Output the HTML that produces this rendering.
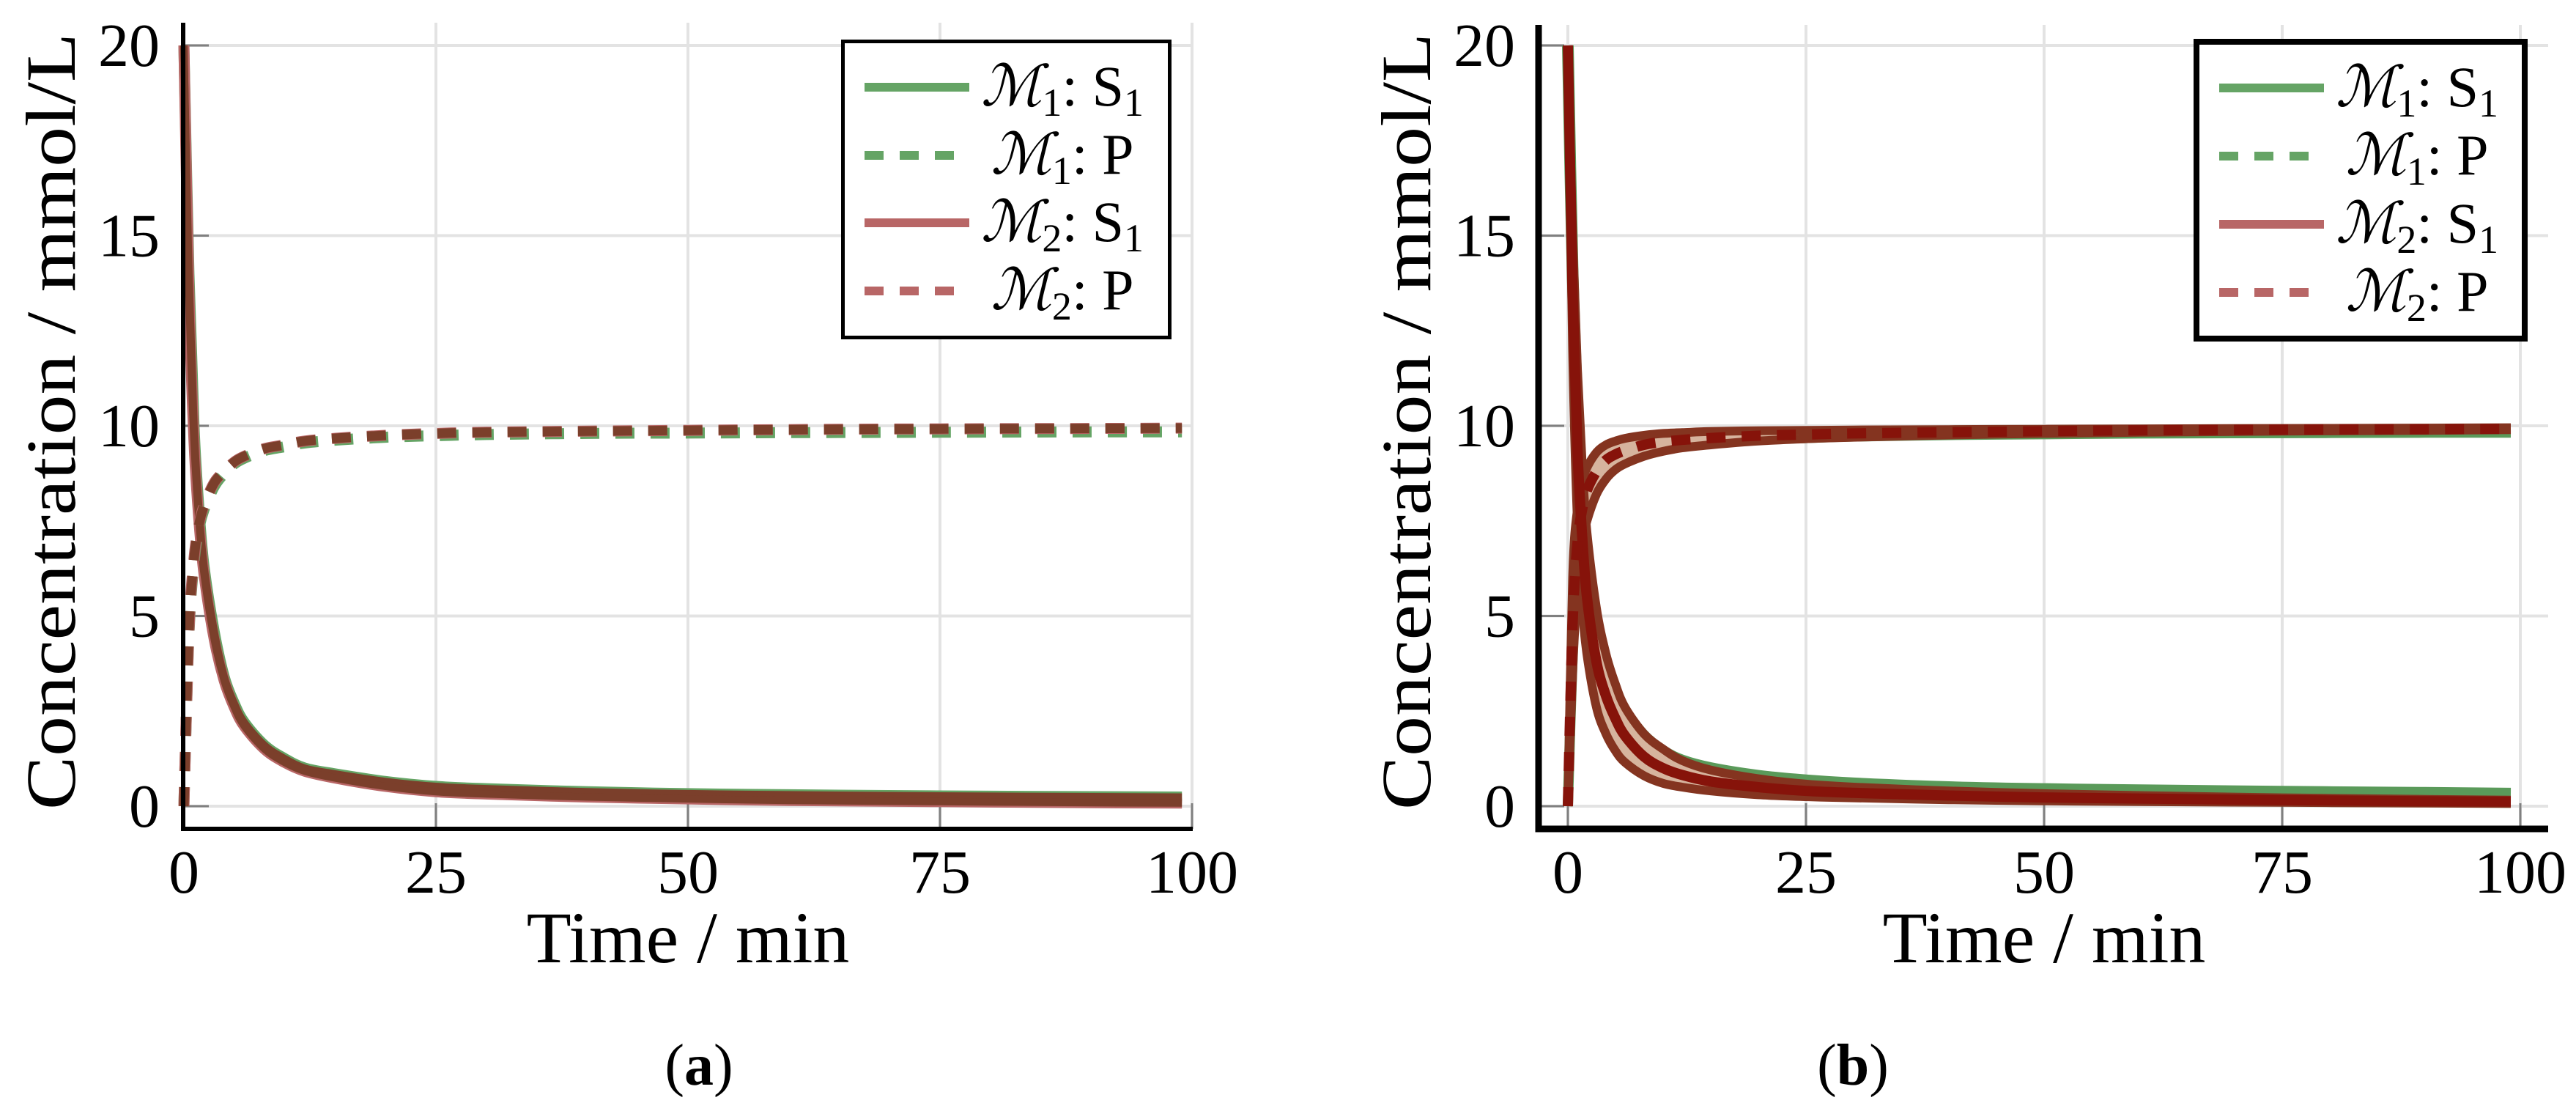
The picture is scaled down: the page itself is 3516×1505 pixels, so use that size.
<!DOCTYPE html>
<html><head><meta charset="utf-8">
<style>
html,body{margin:0;padding:0;background:#fff;}
svg{display:block;font-family:"Liberation Serif","DejaVu Serif",serif;}
text,tspan{font-family:"Liberation Serif","DejaVu Serif",serif;}
</style></head>
<body>
<svg id="fig" width="3516" height="1505" viewBox="0 0 3516 1505" xmlns="http://www.w3.org/2000/svg"></svg>
<script>
// ---- data ----
const times = [0,0.5,1,1.5,2,3,4,5,6,8,10,12,15,20,25,30,40,50,60,75,90,99];
const xTicks = [0,25,50,75,100];
const yTicks = [0,5,10,15,20];
// panel (a)
const aS1 = [20,14,10,7.8,6.3,4.6,3.4,2.7,2.2,1.6,1.25,1.0,0.85,0.65,0.52,0.46,0.38,0.33,0.3,0.27,0.25,0.24];
const aS2 = [20,13.5,9.6,7.5,6.1,4.4,3.3,2.6,2.1,1.5,1.15,0.92,0.74,0.52,0.38,0.32,0.24,0.19,0.15,0.12,0.09,0.08];
const aP1 = [0,4.5,6.4,7.3,7.8,8.4,8.75,9.0,9.15,9.35,9.45,9.55,9.62,9.7,9.74,9.77,9.8,9.81,9.82,9.83,9.84,9.84];
const aP2 = [0,4.6,6.5,7.4,7.9,8.5,8.8,9.05,9.2,9.4,9.5,9.6,9.67,9.75,9.8,9.83,9.86,9.88,9.9,9.92,9.93,9.94];
// panel (b)
const bS1 = [20,14,10.5,8.2,6.6,4.8,3.7,3.0,2.5,1.85,1.45,1.2,1.0,0.8,0.68,0.6,0.5,0.45,0.42,0.38,0.35,0.33];
const bS2hi = [20,15,11.5,9,7.2,5.2,4.0,3.2,2.6,1.9,1.5,1.2,0.95,0.72,0.58,0.5,0.4,0.33,0.28,0.22,0.18,0.16];
const bS2lo = [20,12,7.5,5.3,4.0,2.6,1.9,1.45,1.15,0.8,0.6,0.5,0.4,0.3,0.25,0.22,0.17,0.14,0.12,0.1,0.08,0.07];
const bS2 = [20,13.5,9.4,7.1,5.5,3.8,2.9,2.3,1.85,1.3,1.0,0.82,0.65,0.5,0.4,0.35,0.28,0.23,0.2,0.16,0.13,0.12];
const bP1 = [0,4,6.2,7.2,7.8,8.4,8.7,8.95,9.1,9.28,9.4,9.48,9.55,9.63,9.68,9.72,9.76,9.78,9.8,9.81,9.82,9.82];
const bP2hi = [0,6,7.8,8.5,8.9,9.3,9.5,9.6,9.67,9.75,9.8,9.82,9.85,9.87,9.88,9.89,9.9,9.91,9.92,9.93,9.94,9.95];
const bP2lo = [0,3.5,5.8,6.9,7.5,8.2,8.6,8.85,9.0,9.2,9.33,9.42,9.5,9.6,9.66,9.7,9.76,9.8,9.83,9.86,9.88,9.9];
const bP2 = [0,4.8,6.9,7.8,8.3,8.8,9.1,9.25,9.35,9.5,9.58,9.63,9.68,9.74,9.77,9.8,9.83,9.86,9.88,9.9,9.91,9.92];

const NS="http://www.w3.org/2000/svg";
const svg=document.getElementById('fig');
function mk(tag,attrs,parent){const e=document.createElementNS(NS,tag);for(const k in attrs)e.setAttribute(k,attrs[k]);(parent||svg).appendChild(e);return e;}

const panels=[
 {id:'a',x0:251,x1:1627,axisL:250,axisR:1628,top:31,aw:6,lw:5,leg:[1148,54,1599,463],legLine:[1180,1323],legRows:[119,212,304,397],legC:1450,yl:218,yt:68,cap:954,tc:939},
 {id:'b',x0:2140,x1:3440,axisL:2100,axisR:3478,top:34,aw:9,lw:8,leg:[2994,53,3450,466],legLine:[3029,3172],legRows:[120,213,306,399],legC:3299,yl:2068,yt:1918,cap:2529,tc:2790}
];
const Y0=1100,Y20=62,BOT=1131;
function yS(v){return Y0+(Y20-Y0)*v/20;}
function smooth(pts){let d='M'+pts[0][0].toFixed(1)+','+pts[0][1].toFixed(1);
 for(let i=0;i<pts.length-1;i++){const p0=pts[Math.max(0,i-1)],p1=pts[i],p2=pts[i+1],p3=pts[Math.min(pts.length-1,i+2)];
  const c1=[p1[0]+(p2[0]-p0[0])/6,p1[1]+(p2[1]-p0[1])/6],c2=[p2[0]-(p3[0]-p1[0])/6,p2[1]-(p3[1]-p1[1])/6];
  d+=' C'+c1[0].toFixed(1)+','+c1[1].toFixed(1)+' '+c2[0].toFixed(1)+','+c2[1].toFixed(1)+' '+p2[0].toFixed(1)+','+p2[1].toFixed(1);}
 return d;}

panels.forEach(P=>{
 const xS=t=>P.x0+(P.x1-P.x0)*t/100;
 const g=mk('g',{});
 
 
 xTicks.forEach(t=>{const l=mk('line',{x1:xS(t),x2:xS(t),y1:P.top,y2:BOT,stroke:'#e3e3e3','stroke-width':4},g);
  });
 yTicks.forEach(v=>{const l=mk('line',{x1:P.axisL,x2:P.axisR,y1:yS(v),y2:yS(v),stroke:'#e3e3e3','stroke-width':4},g);
  });
 xTicks.forEach(t=>{const l=mk('line',{x1:xS(t),x2:xS(t),y1:BOT,y2:BOT-35,stroke:'#808080','stroke-width':3},g);
  
  const tx=mk('text',{x:xS(t),y:1218,'font-size':84,'text-anchor':'middle'},g);tx.textContent=t;
  });
 yTicks.forEach(v=>{const l=mk('line',{x1:P.axisL,x2:P.axisL+35,y1:yS(v),y2:yS(v),stroke:'#808080','stroke-width':3},g);
  
  const tx=mk('text',{x:P.yl,y:yS(v)+28,'font-size':84,'text-anchor':'end'},g);tx.textContent=v;
  });

 const lines=mk('g',{fill:'none','stroke-linejoin':'round'},g);
 
 const path=(vals,attrs,name)=>{const p=mk('path',Object.assign({d:smooth(times.map((t,i)=>[xS(t),yS(vals[i])]))},attrs),lines);
  return p;};
 const band=(hi,lo,name)=>{const pts=times.map((t,i)=>[xS(t),yS(hi[i])]);const pl=times.map((t,i)=>[xS(t),yS(lo[i])]).reverse();
  const d=smooth(pts)+' L'+smooth(pl).slice(1)+' Z';const p=mk('path',{d:d,fill:'#d6b49e',stroke:'none'},lines);
  };
 const dash='26 22';
 if(P.id==='a'){
  path(aS1,{stroke:'#65a465','stroke-width':15},'m1-s1-line');
  path(aS2,{stroke:'#b86666','stroke-width':15},'m2-s1-line');
  path(aS1,{stroke:'#7b3f2b','stroke-width':10},'m1-s1-core');
  path(aS2,{stroke:'#7b3f2b','stroke-width':10},'m2-s1-core');
  path(aP1,{stroke:'#65a465','stroke-width':15,'stroke-dasharray':dash},'m1-p-line');
  path(aP2,{stroke:'#b86666','stroke-width':15,'stroke-dasharray':dash},'m2-p-line');
  path(aP2,{stroke:'#7b3f2b','stroke-width':13,'stroke-dasharray':dash},'m2-p-core');
 } else {
  path(bS1,{stroke:'#5a9a5a','stroke-width':16},'m1-s1-line');
  path(bP1,{stroke:'#5a9a5a','stroke-width':14},'m1-p-line');
  band(bS2hi,bS2lo,'m2-s1-band');
  band(bP2hi,bP2lo,'m2-p-band');
  path(bS2hi,{stroke:'#843420','stroke-width':12},'m2-s1-band-upper');
  path(bS2lo,{stroke:'#843420','stroke-width':12},'m2-s1-band-lower');
  path(bP2hi,{stroke:'#843420','stroke-width':12},'m2-p-band-upper');
  path(bP2lo,{stroke:'#843420','stroke-width':12},'m2-p-band-lower');
  path(bS2,{stroke:'#86130a','stroke-width':14},'m2-s1-line');
  path(bP2,{stroke:'#86130a','stroke-width':14,'stroke-dasharray':dash},'m2-p-line');
 }
 const ay=mk('line',{x1:P.axisL,x2:P.axisL,y1:P.top,y2:BOT+P.aw/2,stroke:'#000','stroke-width':P.aw},g);
 
 const ax=mk('line',{x1:P.axisL-P.aw/2,x2:P.axisR,y1:BOT,y2:BOT,stroke:'#000','stroke-width':P.aw},g);
 
 const xt=mk('text',{x:P.tc,y:1313,'font-size':100,'text-anchor':'middle'},g);xt.textContent='Time / min';
 
 const yt=mk('text',{x:0,y:0,'font-size':96,'text-anchor':'middle',textLength:1060,lengthAdjust:'spacingAndGlyphs',transform:'translate('+(P.yt+34)+',575) rotate(-90)'},g);
 yt.textContent='Concentration / mmol/L';
 
 const cp=mk('text',{x:P.cap,y:1480,'font-size':80,'text-anchor':'middle'},g);
 cp.innerHTML='(<tspan font-weight="bold">'+P.id+'</tspan>)';
 
 const lg=mk('g',{},g);
 
 const L=P.leg;
 mk('rect',{x:L[0]+P.lw/2,y:L[1]+P.lw/2,width:L[2]-L[0]-P.lw,height:L[3]-L[1]-P.lw,fill:'#fff',stroke:'#000','stroke-width':P.lw},lg);
 const entries=[['1','S','#65a465',false],['1','P','#65a465',true],['2','S','#b86666',false],['2','P','#b86666',true]];
 entries.forEach((e,i)=>{
  const ry=P.legRows[i];
  const ln=mk('line',{x1:P.legLine[0],x2:e[3]?P.legLine[0]+128:P.legLine[1],y1:ry,y2:ry,stroke:e[2],'stroke-width':12,'stroke-dasharray':e[3]?'26 22':'none'},lg);
  
  const tx=mk('text',{x:P.legC,y:ry+25,'font-size':78,'text-anchor':'middle'},lg);
  tx.innerHTML='<tspan font-style="italic">ℳ</tspan><tspan font-size="54" dy="14">'+e[0]+'</tspan><tspan dy="-14">: '+(e[1]==='S'?'S</tspan><tspan font-size="54" dy="14">1</tspan>':'P</tspan>');
  
 });
});
</script>
</body></html>
